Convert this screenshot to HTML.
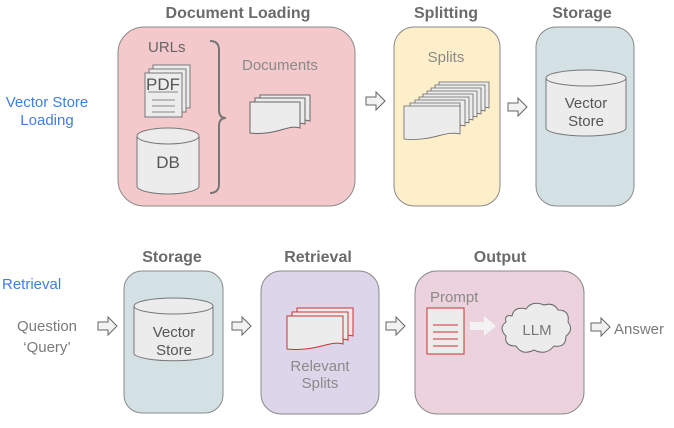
<!DOCTYPE html>
<html><head><meta charset="utf-8"><style>
html,body{margin:0;padding:0;background:#fff;}
svg{display:block;}
text{font-family:"Liberation Sans","DejaVu Sans",sans-serif;}
.t{font-weight:bold;fill:#6b6b6b;font-size:16px;text-anchor:middle;}
.g{fill:#7a7a7a;font-size:15px;}
.b{fill:#3f7fe0;font-size:15px;}
</style></head><body>
<svg width="674" height="428" viewBox="0 0 674 428" xmlns="http://www.w3.org/2000/svg">
<defs>
<path id="doc" d="M0 0 H50 V26 C38 22 26 34 0 31 Z"/>
<path id="arr" d="M0 -4 H10 V-9 L19 0 L10 9 V4 H0 Z"/>
</defs>

<text class="t" x="238" y="18">Document Loading</text>
<text class="t" x="446" y="18">Splitting</text>
<text class="t" x="582" y="18">Storage</text>
<text class="t" x="172" y="262">Storage</text>
<text class="t" x="318" y="262">Retrieval</text>
<text class="t" x="500" y="262">Output</text>

<rect x="118" y="27" width="237" height="179" rx="26" fill="#f4c9cb" stroke="#8a8a8a" stroke-width="1"/>
<rect x="394" y="27" width="106" height="179" rx="20" fill="#fdefc9" stroke="#8a8a8a" stroke-width="1"/>
<rect x="536" y="27" width="98" height="179" rx="20" fill="#d3e1e4" stroke="#8a8a8a" stroke-width="1"/>
<rect x="124" y="271" width="99" height="142" rx="18" fill="#d3e1e4" stroke="#8a8a8a" stroke-width="1"/>
<rect x="261" y="271" width="118" height="143" rx="20" fill="#ddd5ea" stroke="#8a8a8a" stroke-width="1"/>
<rect x="415" y="271" width="169" height="143" rx="22" fill="#ecd2dc" stroke="#8a8a8a" stroke-width="1"/>

<text class="b" x="47" y="107" text-anchor="middle">Vector Store</text>
<text class="b" x="47" y="125" text-anchor="middle">Loading</text>
<text class="b" x="2" y="289">Retrieval</text>
<text class="g" x="47" y="331" text-anchor="middle">Question</text>
<text class="g" x="47" y="352" text-anchor="middle">‘Query’</text>
<text class="g" x="614" y="334">Answer</text>

<text class="g" x="148" y="52" style="fill:#666">URLs</text>
<g fill="#ececec" stroke="#777" stroke-width="1">
<rect x="153" y="65" width="37" height="43"/>
<rect x="149" y="69" width="37" height="43"/>
<rect x="145" y="73" width="37" height="44"/>
</g>
<text x="146" y="90" font-size="17" fill="#555">PDF</text>
<g stroke="#888" stroke-width="1"><line x1="148" y1="92" x2="178" y2="92"/><line x1="152" y1="100" x2="175" y2="100"/><line x1="152" y1="106" x2="175" y2="106"/><line x1="152" y1="112" x2="175" y2="112"/></g>
<g fill="#ececec" stroke="#777" stroke-width="1">
<path d="M137 136 V186 A31 8 0 0 0 199 186 V136"/>
<ellipse cx="168" cy="136" rx="31" ry="8"/>
</g>
<text x="168" y="168" font-size="17" fill="#555" text-anchor="middle">DB</text>
<path d="M210 41 Q219 41 219 50 V110 Q219 118 226 118 Q219 118 219 126 V184 Q219 193 210 193" fill="none" stroke="#777" stroke-width="2"/>
<text x="242" y="70" font-size="15" fill="#8a8a8a">Documents</text>
<g fill="#ececec" stroke="#666" stroke-width="1">
<use href="#doc" x="260" y="95"/><use href="#doc" x="255" y="98"/><use href="#doc" x="250" y="102"/>
</g>

<text x="446" y="62" font-size="15" fill="#8a8a8a" text-anchor="middle">Splits</text>
<g fill="#ececec" stroke="#666" stroke-width="0.8">
<use href="#doc" x="439" y="82"/><use href="#doc" x="435" y="85"/><use href="#doc" x="431" y="88"/><use href="#doc" x="427" y="91"/><use href="#doc" x="423" y="94"/><use href="#doc" x="419" y="97"/><use href="#doc" x="415" y="100"/><use href="#doc" x="410" y="103"/>
<path d="M404 106 H460 V134 C446 130 432 142 404 139 Z"/>
</g>

<g fill="#ececec" stroke="#777" stroke-width="1">
<path d="M546 78 V128 A40 8 0 0 0 626 128 V78"/>
<ellipse cx="586" cy="78" rx="40" ry="8"/>
</g>
<text x="586" y="108" font-size="15" fill="#555" text-anchor="middle">Vector</text>
<text x="586" y="126" font-size="15" fill="#555" text-anchor="middle">Store</text>

<g fill="#ececec" stroke="#777" stroke-width="1">
<path d="M134 306 V354 A40 8 0 0 0 213 354 V306"/>
<ellipse cx="173.5" cy="306" rx="39.5" ry="8"/>
</g>
<text x="174" y="337" font-size="15" fill="#555" text-anchor="middle">Vector</text>
<text x="174" y="355" font-size="15" fill="#555" text-anchor="middle">Store</text>

<g fill="#ececec" stroke="#d03030" stroke-width="1">
<path d="M297 308 H353 V336 C340 332 326 344 297 341 Z"/>
<path d="M292 312 H348 V340 C335 336 321 348 292 345 Z"/>
<path d="M287 316 H343 V344 C330 340 316 352 287 349 Z"/>
</g>
<text x="320" y="371" font-size="15" fill="#8a8a8a" text-anchor="middle">Relevant</text>
<text x="320" y="388" font-size="15" fill="#8a8a8a" text-anchor="middle">Splits</text>

<text x="430" y="302" font-size="15" fill="#8a8a8a">Prompt</text>
<rect x="427" y="308" width="37" height="46" fill="#ececec" stroke="#d03030" stroke-width="1"/>
<g stroke="#d03030" stroke-width="1"><line x1="433" y1="325" x2="458" y2="325"/><line x1="433" y1="332" x2="458" y2="332"/><line x1="433" y1="339" x2="458" y2="339"/><line x1="433" y1="346" x2="458" y2="346"/></g>
<path d="M470 322 H484 V316 L496 326 L484 336 V330 H470 Z" fill="#f3f3f3"/>
<path d="M512 316 Q514 306 526 309 Q532 300 544 305 Q554 302 558 310 Q570 310 568 322 Q574 330 566 336 Q566 348 554 346 Q546 356 534 350 Q522 356 516 346 Q504 346 506 336 Q498 328 506 322 Q504 314 512 316 Z" fill="#ececec" stroke="#666" stroke-width="1"/>
<text x="537" y="335" font-size="15" fill="#777" text-anchor="middle">LLM</text>

<g fill="#f2f2f2" stroke="#666" stroke-width="1">
<use href="#arr" x="366" y="101"/>
<use href="#arr" x="508" y="107"/>
<use href="#arr" x="98" y="326"/>
<use href="#arr" x="232" y="326"/>
<use href="#arr" x="386" y="326"/>
<use href="#arr" x="591" y="327"/>
</g>
</svg>
</body></html>
